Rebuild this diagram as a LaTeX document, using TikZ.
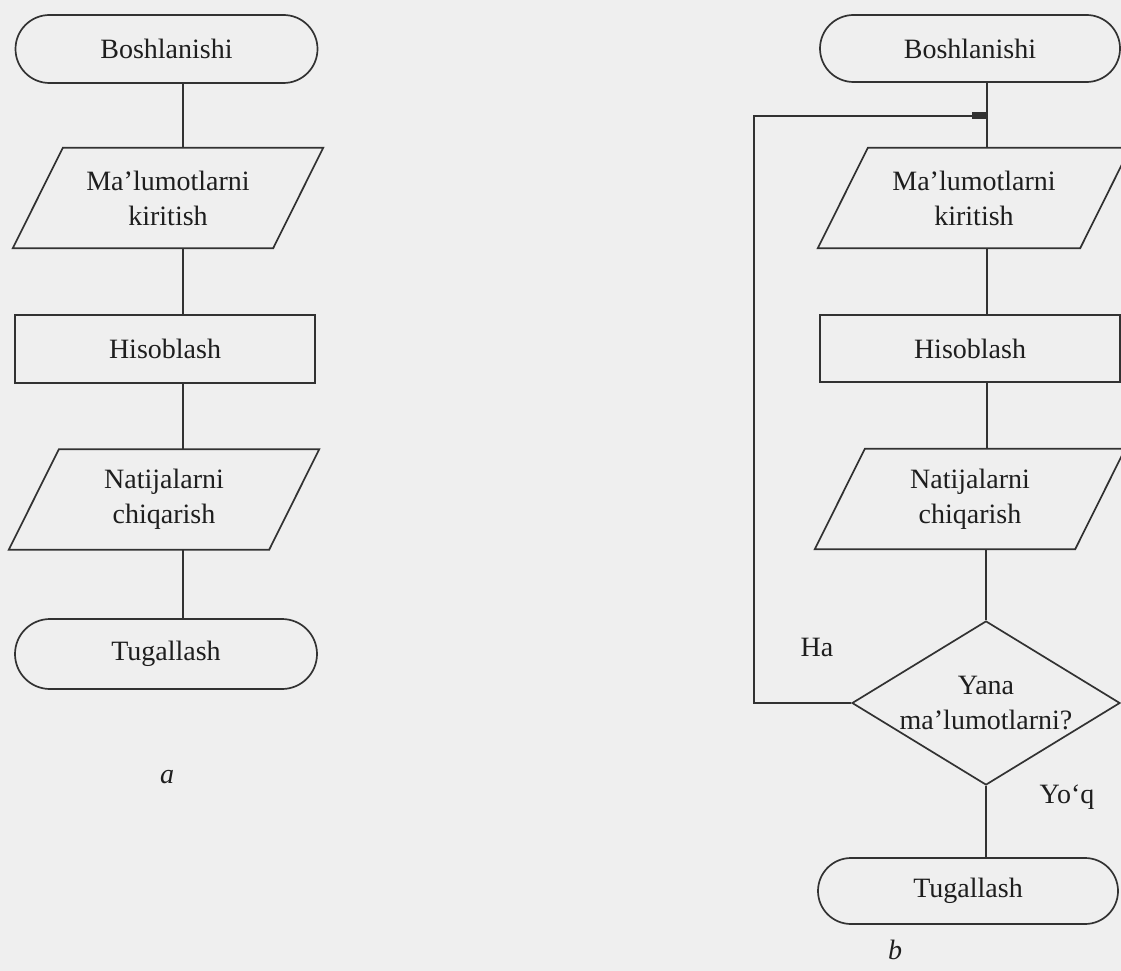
\documentclass[tikz,border=0pt]{standalone}
\usepackage{fontspec}
\setmainfont{Liberation Serif}
\usetikzlibrary{shapes.misc,shapes.geometric,arrows.meta}
\definecolor{bg}{RGB}{239,239,239}
\definecolor{ink}{RGB}{50,50,50}
\definecolor{txt}{RGB}{30,30,30}
\begin{document}
\begin{tikzpicture}[x=1pt,y=-1pt,
  base/.style={font=\fontsize{28}{35}\selectfont, text=txt, align=center, inner sep=0pt},
  term/.style={base, rounded rectangle, draw=ink, line width=1.7pt, minimum height=68pt, minimum width=302pt},
  proc/.style={base, rectangle, draw=ink, line width=1.7pt, minimum height=68pt, minimum width=300pt},
  io/.style={base, rectangle, minimum height=100pt, minimum width=260pt},
  ioline/.style={draw=ink, line width=1.7pt, line join=miter},
  dec/.style={base, diamond, draw=ink, line width=1.7pt, shape aspect=1.65, minimum width=268pt, minimum height=164pt},
  conn/.style={draw=ink, line width=1.7pt},
  loopline/.style={draw=ink, line width=2.2pt},
  lab/.style={base},
  sub/.style={base, font=\fontsize{28}{35}\selectfont\itshape}
]
\useasboundingbox (0,0) rectangle (1121,971);
\fill[bg] (0,0) rectangle (1121,971);
\clip (0,0) rectangle (1121,971);

% ---------- left flowchart (a) ----------
\node[term] (s1) at (166.5,49) {Boshlanishi};
\node[io] (p1) at (168,198) {Ma’lumotlarni\\kiritish};
\node[proc] (r1) at (165,349) {Hisoblash};
\node[io] (p2) at (164,499.5) {Natijalarni\\chiqarish};
\node[term, minimum height=70pt] (e1) at (166,654) {Tugallash};
\node[sub] (la) at (167,777) {a};

\draw[ioline] ([xshift=25pt]p1.north west) -- ([xshift=25pt]p1.north east) -- ([xshift=-25pt]p1.south east) -- ([xshift=-25pt]p1.south west) -- cycle;
\draw[ioline] ([xshift=25pt]p2.north west) -- ([xshift=25pt]p2.north east) -- ([xshift=-25pt]p2.south east) -- ([xshift=-25pt]p2.south west) -- cycle;

\coordinate (lx) at (183,0);
\draw[conn] (s1.south -| lx) -- (p1.north -| lx);
\draw[conn] (p1.south -| lx) -- (r1.north -| lx);
\draw[conn] (r1.south -| lx) -- (p2.north -| lx);
\draw[conn] (p2.south -| lx) -- (e1.north -| lx);

% ---------- right flowchart (b) ----------
\node[term, minimum width=300pt, minimum height=67pt] (s2) at (970,48.5) {Boshlanishi};
\node[io, minimum width=262pt] (p3) at (974,198) {Ma’lumotlarni\\kiritish};
\node[proc, minimum height=67pt] (r2) at (970,348.5) {Hisoblash};
\node[io] (p4) at (970,499) {Natijalarni\\chiqarish};
\node[dec] (d) at (986,703) {Yana\\ma’lumotlarni?};
\node[term, minimum width=300pt, minimum height=66pt] (e2) at (968,891) {Tugallash};
\node[lab] (ha) at (817,647) {Ha};
\node[lab] (yoq) at (1067,797) {Yo‘q};
\node[sub] (lb) at (895,950) {b};

\draw[ioline] ([xshift=25pt]p3.north west) -- ([xshift=25pt]p3.north east) -- ([xshift=-25pt]p3.south east) -- ([xshift=-25pt]p3.south west) -- cycle;
\draw[ioline] ([xshift=25pt]p4.north west) -- ([xshift=25pt]p4.north east) -- ([xshift=-25pt]p4.south east) -- ([xshift=-25pt]p4.south west) -- cycle;

\coordinate (rx) at (987,0);
\coordinate (lp) at (754,116);
\coordinate (jn) at (987,116);
\draw[conn] (s2.south -| rx) -- (p3.north -| rx);
\draw[conn] (p3.south -| rx) -- (r2.north -| rx);
\draw[conn] (r2.south -| rx) -- (p4.north -| rx);
\draw[conn] (p4.south -| d.north) -- (d.north);
\draw[conn] (d.south) -- (e2.north -| d.south);
\draw[loopline, -{Rectangle[length=15pt,width=7pt]}] (d.west) -- (d.west -| lp) -- (lp) -- (jn);
\end{tikzpicture}
\end{document}
